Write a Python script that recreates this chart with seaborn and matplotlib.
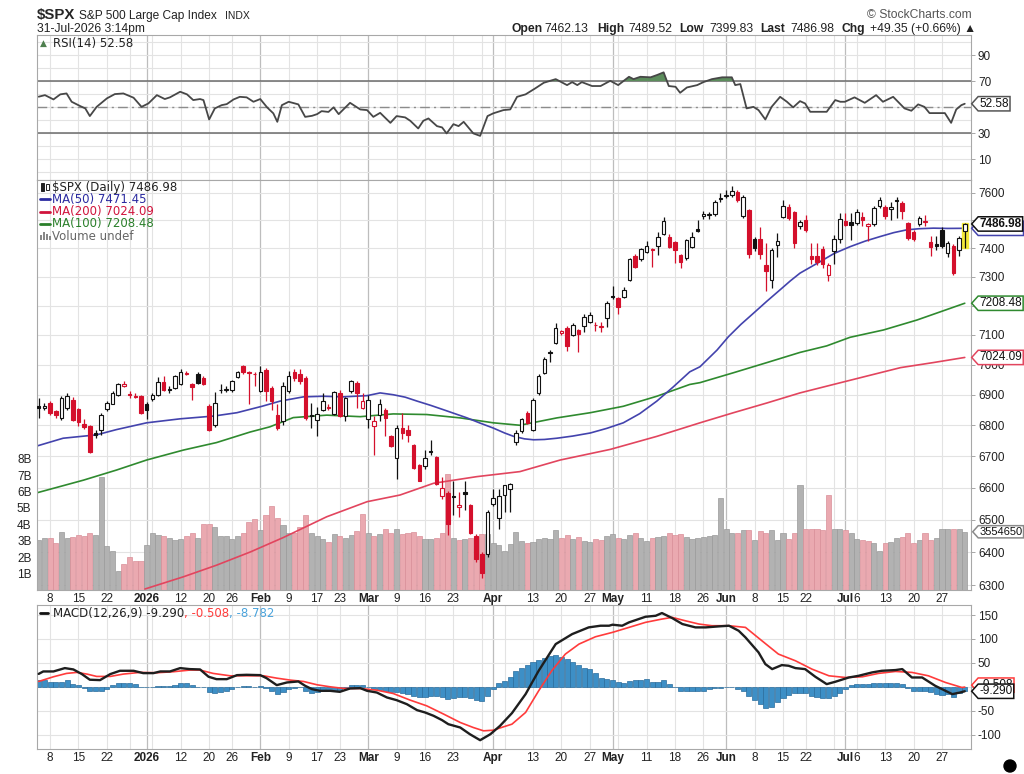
import numpy as np
import pandas as pd
import matplotlib
matplotlib.use("Agg")
import matplotlib.pyplot as plt
import seaborn as sns
from matplotlib.path import Path
from matplotlib.lines import Line2D
from matplotlib.patches import Ellipse, Rectangle
from matplotlib.ticker import FixedLocator, NullLocator, FuncFormatter

# ---------------- data ----------------
holidays = ['2025-12-25', '2026-01-01', '2026-01-19', '2026-02-16',
            '2026-04-03', '2026-05-25', '2026-06-19', '2026-07-03']

opens = [6864, 6858, 6873, 6846, 6824, 6857, 6884, 6853, 6805, 6798,
         6775, 6786, 6853, 6871, 6900, 6930, 6902, 6896, 6895, 6871,
         6886, 6900, 6941, 6920, 6922, 6937, 6970, 6934, 6970, 6955,
         6862, 6800, 6915, 6914, 6915, 6960, 6997, 6975, 6970, 6912,
         6982, 6922, 6832, 6813, 6911, 6975, 6968, 6955, 6835, 6816,
         6849, 6860, 6838, 6906, 6830, 6911, 6940, 6858, 6821, 6797,
         6832, 6850, 6764, 6694, 6791, 6786, 6737, 6672, 6668, 6717,
         6698, 6575, 6584, 6574, 6540, 6586, 6546, 6449, 6395, 6395,
         6550, 6505, 6577, 6597, 6747, 6780, 6841, 6786, 6907, 6973,
         7042, 7072, 7108, 7125, 7100, 7117, 7130, 7145, 7133, 7128,
         7159, 7235, 7227, 7230, 7288, 7373, 7361, 7387, 7395, 7408,
         7452, 7440, 7423, 7375, 7367, 7406, 7468, 7515, 7518, 7521,
         7582, 7588, 7592, 7604, 7515, 7537, 7434, 7435, 7340, 7290,
         7412, 7513, 7549, 7530, 7480, 7500, 7372, 7372, 7398, 7306,
         7390, 7432, 7498, 7495, 7490, 7512, 7478, 7486, 7550, 7547,
         7540, 7575, 7563, 7490, 7457, 7488, 7495, 7422, 7415, 7466,
         7385, 7410, 7396, 7462.13]
highs = [6890, 6872, 6878, 6850, 6895, 6905, 6892, 6858, 6820, 6800,
         6785, 6840, 6880, 6912, 6938, 6944, 6912, 6905, 6898, 6875,
         6905, 6960, 6961, 6928, 6966, 6985, 6978, 6940, 6975, 6962,
         6868, 6908, 6935, 6928, 6950, 6978, 7000, 6980, 6976, 6995,
         6990, 6930, 6868, 6943, 6980, 6985, 6985, 6962, 6873, 6860,
         6905, 6870, 6911, 6917, 6893, 6950, 6945, 6905, 6900, 6830,
         6885, 6858, 6770, 6802, 6840, 6800, 6740, 6675, 6720, 6753,
         6700, 6633, 6590, 6622, 6585, 6622, 6550, 6455, 6400, 6530,
         6595, 6595, 6610, 6615, 6785, 6825, 6848, 6890, 6968, 7025,
         7048, 7140, 7118, 7130, 7140, 7120, 7170, 7180, 7145, 7145,
         7216, 7268, 7230, 7265, 7367, 7380, 7402, 7425, 7402, 7457,
         7512, 7452, 7428, 7380, 7432, 7458, 7500, 7535, 7530, 7572,
         7598, 7610, 7625, 7610, 7590, 7540, 7440, 7475, 7420, 7400,
         7455, 7575, 7560, 7535, 7500, 7520, 7420, 7420, 7410, 7350,
         7446, 7525, 7525, 7525, 7540, 7530, 7490, 7550, 7585, 7555,
         7565, 7585, 7570, 7495, 7465, 7515, 7520, 7445, 7445, 7475,
         7425, 7415, 7445, 7489.52]
lows = [6823, 6850, 6835, 6825, 6818, 6850, 6815, 6796, 6788, 6712,
        6760, 6770, 6845, 6868, 6895, 6925, 6890, 6888, 6836, 6820,
        6880, 6895, 6912, 6905, 6918, 6932, 6965, 6882, 6935, 6932,
        6780, 6795, 6905, 6910, 6910, 6955, 6970, 6868, 6930, 6908,
        6880, 6850, 6786, 6800, 6905, 6945, 6935, 6818, 6791, 6764,
        6845, 6850, 6835, 6826, 6815, 6905, 6858, 6852, 6791, 6704,
        6815, 6764, 6730, 6628, 6754, 6745, 6658, 6620, 6660, 6705,
        6610, 6565, 6453, 6514, 6508, 6530, 6455, 6370, 6322, 6385,
        6543, 6470, 6525, 6525, 6735, 6775, 6805, 6780, 6900, 6968,
        7010, 7068, 7100, 7045, 7095, 7043, 7110, 7140, 7115, 7110,
        7128, 7223, 7170, 7228, 7286, 7330, 7355, 7382, 7335, 7375,
        7448, 7400, 7350, 7332, 7360, 7400, 7460, 7505, 7505, 7515,
        7565, 7580, 7585, 7565, 7510, 7365, 7390, 7362, 7252, 7262,
        7370, 7510, 7500, 7400, 7470, 7458, 7345, 7340, 7330, 7285,
        7345, 7420, 7478, 7430, 7485, 7480, 7425, 7480, 7545, 7505,
        7500, 7510, 7505, 7430, 7425, 7480, 7478, 7372, 7395, 7400,
        7370, 7305, 7373, 7399.83]
closes = [6855, 6862, 6840, 6832, 6890, 6895, 6818, 6812, 6795, 6715,
          6770, 6832, 6873, 6906, 6936, 6934, 6900, 6894, 6840, 6851,
          6900, 6941, 6915, 6917, 6961, 6974, 6972, 6926, 6939, 6937,
          6785, 6873, 6917, 6918, 6945, 6976, 6974, 6972, 6968, 6975,
          6911, 6879, 6791, 6928, 6962, 6955, 6945, 6824, 6830, 6838,
          6878, 6857, 6908, 6830, 6889, 6944, 6906, 6878, 6881, 6815,
          6868, 6824, 6734, 6791, 6775, 6770, 6661, 6622, 6696, 6713,
          6613, 6600, 6486, 6570, 6546, 6581, 6459, 6380, 6336, 6523,
          6568, 6575, 6607, 6613, 6776, 6821, 6808, 6884, 6963, 7020,
          7038, 7124, 7112, 7062, 7134, 7102, 7162, 7168, 7135, 7130,
          7208, 7230, 7196, 7255, 7361, 7335, 7398, 7410, 7398, 7440,
          7496, 7406, 7395, 7351, 7430, 7440, 7463, 7522, 7523, 7567,
          7578, 7592, 7606, 7573, 7585, 7380, 7400, 7380, 7320, 7395,
          7428, 7550, 7508, 7418, 7495, 7467, 7362, 7352, 7346, 7343,
          7434, 7505, 7482, 7485, 7530, 7500, 7488, 7545, 7573, 7514,
          7548, 7570, 7535, 7436, 7432, 7508, 7497, 7405, 7408, 7410,
          7420, 7314, 7437.63, 7486.98]
prev_close = 6850

volume_b = [3.05, 3.2, 3.2, 2.85, 3.55, 3.2, 3.25, 3.35, 3.3, 3.45,
            3.35, 6.9, 2.7, 2.35, 1.15, 1.6, 2.0, 1.75, 1.75, 2.75,
            3.5, 3.35, 3.3, 3.2, 3.05, 3.1, 3.3, 3.45, 3.2, 4.05,
            4.0, 3.85, 3.3, 3.3, 3.1, 3.3, 3.45, 4.15, 4.35, 3.65,
            4.6, 5.15, 4.4, 3.95, 3.45, 3.5, 3.85, 4.6, 3.5, 3.3,
            3.1, 2.9, 3.4, 3.3, 3.2, 3.35, 3.6, 4.65, 3.5, 3.3,
            3.4, 3.75, 3.5, 3.75, 3.4, 3.5, 3.55, 3.3, 3.1, 3.1,
            3.2, 3.5, 7.1, 3.2, 3.05, 3.1, 3.2, 3.25, 3.4, 3.4,
            2.85, 2.75, 2.4, 2.8, 3.55, 3.0, 2.85, 2.9, 3.1, 3.15,
            3.1, 3.65, 3.2, 3.35, 3.1, 3.25, 3.0, 2.95, 3.1, 3.05,
            3.3, 3.4, 3.2, 3.1, 3.35, 3.45, 3.2, 3.0, 3.15, 3.25,
            3.3, 3.45, 3.35, 3.4, 3.25, 3.1, 3.15, 3.25, 3.3, 3.35,
            5.6, 3.7, 3.5, 3.5, 3.65, 3.65, 3.05, 3.6, 3.45, 3.65,
            3.05, 3.5, 3.1, 3.5, 6.4, 3.75, 3.7, 3.7, 3.65, 5.8,
            3.7, 3.75, 3.65, 3.5, 3.1, 3.05, 3.0, 2.85, 2.4, 2.85,
            2.9, 3.15, 3.25, 3.5, 2.85, 3.05, 3.45, 3.05, 3.15, 3.7,
            3.7, 3.7, 3.7, 3.55]

# moving averages, read at points along each line (day index, value)
ma50_x = [-0.3, 4.3, 10.2, 13.7, 19, 24.9, 30.8, 34.9, 39.3, 42.5, 46.6, 50, 53.6,
          57.8, 60.1, 62.4, 64.5, 66.6, 69, 71.2, 75.4, 77.7, 80, 82, 83.6, 85.5,
          87.1, 89, 91.2, 94, 97.1, 100, 102.9, 105.8, 108.8, 111.7, 114.6, 116.4,
          119.4, 121.4, 123.6, 125.8, 128.2, 130.5, 132.3, 134, 137.6, 140, 142.8,
          145.5, 148.1, 150.5, 152.8, 155, 157.5, 160, 163]
ma50_v = [6733, 6758, 6769, 6786, 6808, 6821, 6830, 6841, 6862, 6879, 6893, 6895, 6893,
          6897, 6906, 6900, 6892, 6879, 6865, 6851, 6824, 6807, 6791, 6775, 6764, 6756,
          6753, 6754, 6758, 6765, 6775, 6790, 6808, 6838, 6879, 6926, 6976, 6993,
          7049, 7094, 7136, 7174, 7216, 7255, 7286, 7313, 7354, 7382, 7406,
          7426, 7442, 7456, 7466, 7470, 7472, 7471, 7471.45]
ma100_x = [-0.3, 7.9, 13.7, 19, 25.5, 31.3, 37.2, 40.7, 44.8, 50.7, 56.6, 62.4, 68.3,
           74.2, 80, 84.7, 91.2, 97.1, 102.9, 108.8, 114.6, 116.4, 122.3, 128.2,
           134, 138.7, 142.8, 148.7, 154.6, 163]
ma100_v = [6584, 6624, 6656, 6688, 6720, 6744, 6778, 6795, 6825, 6833, 6828, 6837, 6835,
           6824, 6808, 6800, 6824, 6841, 6862, 6895, 6934, 6940, 6973, 7007,
           7041, 7063, 7092, 7117, 7151, 7208.48]
ma200_x = [18.7, 25.5, 31.3, 37.2, 43.1, 50.7, 57.8, 63.6, 69.5, 77.1, 84.7, 91.8,
           100.6, 108.8, 116.4, 122.3, 128.2, 134, 139.9, 145.8, 151.7, 157.5, 163]
ma200_v = [6288, 6325, 6360, 6400, 6445, 6509, 6556, 6577, 6614, 6635, 6651, 6688,
           6722, 6764, 6808, 6841, 6873, 6906, 6934, 6962, 6990, 7007, 7024.09]

rsi_x = [0, 1.1, 2.6, 3.8, 4.9, 5.8, 7.3, 8.2, 9, 10.2, 12, 13.4, 14.9, 16.7, 18.1,
         19.3, 20.8, 22.2, 23.1, 24.9, 26.1, 27.2, 28.4, 29, 30, 31, 32.2, 33.1,
         34.3, 35.4, 36.6, 37.8, 39, 40.2, 41.3, 42, 42.8, 44, 45.7, 46.9, 48.1,
         49, 49.8, 51, 51.9, 52.8, 54.8, 56.6, 57.8, 58.9, 60.1, 61.9, 63, 64.5,
         65.4, 66.8, 67.7, 68.6, 70.1, 71, 71.8, 73, 73.9, 74.8, 76.5, 77.7, 79,
         80, 81.8, 83, 84.2, 85.7, 87.4, 88.9, 91, 93, 93.9, 94.8, 95.6, 97.4,
         98.9, 100.6, 102, 103.9, 104.7, 105.9, 107.7, 108.8, 110, 110.9, 112.1,
         112.9, 114.1, 115.9, 117, 118.5, 120.3, 122, 122.6, 123.5, 124.6, 125.8,
         126.7, 127.9, 129, 130.5, 131.7, 132.8, 134, 134.9, 135.8, 138.7, 140.2,
         141.1, 141.9, 143.6, 145.4, 147.4, 148.6, 150.4, 152.4, 153.6, 154.8,
         155.9, 156.8, 159.5, 160.6, 161.5, 162.4, 163]
rsi_v = [58, 59.2, 55.9, 59.8, 60.5, 54.1, 50.8, 49.0, 43.1, 50.2, 56.7, 60.0, 60.5,
         57.2, 50.2, 52.8, 59.2, 56.2, 57.5, 61.8, 59.8, 55.4, 56.2, 55.4, 40.5,
         49.0, 51.5, 52.3, 55.9, 57.9, 57.5, 54.1, 56.2, 49.8, 45.2, 38.7, 51.5,
         54.1, 52.1, 42.5, 43.3, 44.6, 46.9, 46.3, 49.8, 44.6, 53.3, 48.2, 47.7,
         42.5, 45.6, 37.9, 43.1, 42.1, 39.5, 33.6, 39.5, 41.3, 35.4, 34.4, 29.8,
         36.9, 35.4, 38.7, 29.8, 27.9, 43.1, 45.2, 47.7, 48.2, 57.9, 59.8, 64.4,
         68.7, 71.5, 66.9, 69.2, 66.9, 69.2, 66.2, 66.2, 70.2, 66.9, 73.3, 71.5,
         73.3, 72.9, 74.6, 76.7, 66.2, 65.6, 61.0, 65.1, 66.9, 69.2, 71.5, 72.9,
         72.9, 66.9, 67.7, 49.0, 50.2, 47.7, 40.5, 50.2, 57.9, 54.1, 49.8, 54.6,
         52.8, 46.4, 46.4, 55.4, 54.1, 54.1, 57.5, 53.3, 59.2, 54.1, 57.9, 49.0,
         47.2, 52.1, 50.2, 45.4, 45.4, 37.9, 48.2, 51.5, 52.58]

macd_x = [0, 0.8, 2.6, 4.6, 6.1, 7.6, 9, 10.8, 12.6, 14.3, 16.7, 18.4, 20.2, 21.4,
          23.1, 24.9, 26.6, 28.4, 29.9, 31.3, 33.1, 34.9, 36.6, 39, 40.1, 41.9,
          43.7, 45.7, 46.9, 48.1, 49.5, 51.3, 53, 54.8, 56.6, 57.8, 59.5, 61.3,
          63, 64.8, 66.6, 68, 69.5, 71, 72.1, 74.2, 75.9, 77.7, 79.5, 81.2, 83.3,
          85.7, 88, 91, 93.9, 96.8, 98.9, 100.4, 101, 102.7, 103.9, 106.8, 108.6,
          109.7, 111.5, 113.3, 115.6, 117.4, 119.7, 121.5, 123.2, 124.4, 126.7,
          127.9, 129.1, 130.8, 132, 133.2, 134.9, 136.7, 138.7, 140.2, 142.6,
          144.3, 146.7, 148.4, 150.8, 152, 153.7, 155.5, 157.8, 160.8, 162.2, 163]
macd_v = [27, 32.1, 32.1, 39.1, 36.3, 26.6, 14.8, 14.0, 26.6, 33.5, 33.5, 28.6, 28.6,
          32.1, 32.1, 39.1, 37.0, 36.3, 21.0, 16.0, 16.0, 24.4, 25.1, 24.4, 18.1,
          3.5, 9.1, 11.2, 2.1, -4.9, -8.4, -8.4, -10.5, -3.5, -2.8, -8.4, -11.9,
          -22.3, -27.9, -36.3, -48.8, -53.6, -60.6, -69.7, -78.1, -85.1, -99.1,
          -111.6, -99.1, -81.6, -55, -15.3, 33.5, 89.3, 110.2, 124.2, 127.7, 127.7,
          129.8, 127.7, 134.7, 146.4, 148.5, 154.2, 143.7, 131.2, 124.2, 124.2,
          126.3, 127.7, 117.2, 103.3, 72.0, 47.5, 37.0, 45.4, 44.0, 39.1, 37.0,
          21.0, 5.6, 10.5, 19.5, 23.0, 30.1, 33.5, 35.0, 37.0, 19.5, 19.5, 2.1,
          -15.3, -11.9, -9.29]
signal_x = [0, 2.6, 4.9, 6.7, 8.5, 10.2, 12.6, 14.9, 17.8, 20.8, 23.7, 26.6, 28.4,
            30.7, 33.7, 36.6, 39.6, 41.9, 44.3, 46.6, 49, 51.3, 53.7, 56.6, 59.5,
            62.4, 65.4, 68.3, 71.3, 74.2, 76.5, 78.3, 80, 81.8, 83.3, 85.7, 88,
            90.3, 92.7, 95.1, 98, 101, 103.9, 106.8, 109.7, 111.5, 113.8, 116.2,
            118.5, 121.5, 124.4, 127.3, 130.2, 133.2, 136.1, 139.1, 142, 145,
            147.8, 150.8, 153.7, 156.6, 159.6, 162.5, 163]
signal_v = [11.2, 21.0, 28.0, 30.1, 26.6, 21.7, 21.7, 26.6, 30.1, 29.4, 31.5, 35.0,
            35.0, 28.0, 23.0, 23.0, 23.0, 18.1, 14.0, 11.2, 4.2, 0, -3.5, -3.5, -7.0,
            -14.0, -27.9, -39.8, -57.2, -74.6, -85.1, -92.0, -90.7, -83.7, -78.1,
            -53.6, -8.4, 33.5, 68.4, 89.3, 104.6, 113.8, 124.2, 134.7, 141.6, 145.1,
            138.1, 131.2, 127.7, 127.7, 124.2, 96.2, 68.4, 54.4, 37.0, 23.0, 19.5,
            21.0, 28.0, 32.1, 30.1, 23.0, 9.1, -1.4, -0.508]
hist_v = [14, 14, 11, 11, 11, 14, 5.6, 4.2, -2.8, -9.8,
          -9.8, -8.4, -4.9, 4.2, 7, 9, 9, 5.6, 0, -1.4,
          -1.4, 1.4, 1.4, 2.1, 4.2, 7, 7, 4.2, 0, -1.4,
          -11.8, -13.2, -11.8, -8.4, -4.9, -1.4, 1.4, 2.1, 0, 1.4,
          -2.8, -8.4, -15.3, -11.8, -4.9, -2.8, -1.4, -8.4, -13.9, -11.8,
          -8.4, -7, -8.4, -7, -2.8, 3.5, 4.2, 4.2, -1.4, -4.9,
          -7, -9.8, -11.8, -11.8, -13.9, -15.3, -18.8, -22.3, -20.9, -18.8,
          -18.8, -22.3, -25.8, -23.7, -22.3, -22.3, -23.7, -27.9, -30.7, -18.8,
          -4.9, 7, 12.5, 19.5, 32, 40, 46, 51, 56, 61,
          65, 67, 63, 58, 51, 46, 40, 37, 28, 18,
          16, 14, 11, 9, 12.5, 14, 14, 16, 11, 11,
          14, 5.6, -1.4, -9.8, -9.8, -9.8, -9.8, -8.4, -5.6, -3.5,
          -2.8, -1.4, -1.4, -4.9, -8.4, -18.8, -27.9, -36.2, -44.6, -43.2,
          -32.8, -23.7, -16.7, -13.9, -13.9, -12.5, -18.8, -22.3, -23.7, -23.7,
          -18.8, -12.5, -4.9, 4.2, 5.6, 5.6, 5.6, 7, 9, 7,
          7, 7, 5.6, -2.8, -8.4, -8.4, -8.4, -11.8, -15.3, -16.7,
          -15.3, -22.3, -13.9, -8.782]

# x axis: week and month grid lines, labelled ticks
week_lines = ['2025-12-08', '2025-12-15', '2025-12-22', '2025-12-29', '2026-01-05',
              '2026-01-12', '2026-01-20', '2026-01-26', '2026-02-09', '2026-02-17',
              '2026-02-23', '2026-03-09', '2026-03-16', '2026-03-23', '2026-03-30',
              '2026-04-06', '2026-04-13', '2026-04-20', '2026-04-27', '2026-05-04',
              '2026-05-11', '2026-05-18', '2026-05-26', '2026-06-08', '2026-06-15',
              '2026-06-22', '2026-06-29', '2026-07-06', '2026-07-13', '2026-07-20',
              '2026-07-27']
month_lines = ['2026-01-02', '2026-02-02', '2026-03-02', '2026-04-01', '2026-05-01',
               '2026-06-01', '2026-07-01']
tick_dates = ['2025-12-08', '2025-12-15', '2025-12-22', '2026-01-02', '2026-01-12',
              '2026-01-20', '2026-01-26', '2026-02-02', '2026-02-09', '2026-02-17',
              '2026-02-23', '2026-03-02', '2026-03-09', '2026-03-16', '2026-03-23',
              '2026-04-01', '2026-04-13', '2026-04-20', '2026-04-27', '2026-05-01',
              '2026-05-11', '2026-05-18', '2026-05-26', '2026-06-01', '2026-06-08',
              '2026-06-15', '2026-06-22', '2026-07-01', '2026-07-06', '2026-07-13',
              '2026-07-20', '2026-07-27']
tick_labels = ['8', '15', '22', '2026', '12', '20', '26', 'Feb', '9', '17', '23', 'Mar',
               '9', '16', '23', 'Apr', '13', '20', '27', 'May', '11', '18', '26', 'Jun',
               '8', '15', '22', 'Jul', '6', '13', '20', '27']
bold_labels = ['2026', 'Feb', 'Mar', 'Apr', 'May', 'Jun', 'Jul']
price_ticks = list(range(6300, 7700, 100))
hidden_price_labels = [7200]   # sits under the MA(100) tag

# ---------------- setup ----------------
sns.set_theme(style="white")
plt.rcParams['font.family'] = ['Liberation Sans', 'DejaVu Sans']

dates = pd.bdate_range('2025-12-04', '2026-07-31')
dates = dates[~dates.isin(pd.to_datetime(holidays))]
idx = np.arange(len(dates))


def pos(d):
    return dates.get_loc(pd.Timestamp(d))


W, H = 1024, 774
fig = plt.figure(figsize=(W / 100, H / 100), dpi=100)


def panel(top, bottom):
    return fig.add_axes([37 / W, 1 - bottom / H, (971 - 37) / W, (bottom - top) / H])


def px(x, y):
    return x / W, 1 - y / H


ax_rsi = panel(35, 180)
ax = panel(180, 590)
ax_m = panel(605, 749)

GRID = '#e3e3e3'


def style(a, labels=True):
    a.set_xlim(-0.3, 164.1)
    for s in a.spines.values():
        s.set_color('#a8a8a8')
        s.set_linewidth(0.8)
    for d in week_lines:
        a.axvline(pos(d), color=GRID, lw=0.8, zorder=0.2)
    for d in month_lines:
        a.axvline(pos(d), color='#bdbdbd', lw=0.9, zorder=0.3)
    a.set_xticks([pos(d) for d in tick_dates])
    a.set_xticklabels(tick_labels)
    for t, lab in zip(a.get_xticklabels(), tick_labels):
        if lab in bold_labels:
            t.set_fontweight('bold')
    a.tick_params(axis='x', length=0, pad=2, labelsize=8.5, labelcolor='#222',
                  labelbottom=labels)
    a.yaxis.tick_right()
    a.tick_params(axis='y', which='major', length=3, width=0.6, color='#999',
                  pad=2, labelsize=8.5, labelcolor='#222')
    a.set_axisbelow(True)


def tag_shape(x0, y0, width, height, mutation_size):
    pad = 0.1 * mutation_size
    x0, y0 = x0 - pad, y0 - pad
    x1, y1 = x0 + width + 2 * pad, y0 + height + 2 * pad
    tip = 0.45 * (y1 - y0)
    ym = 0.5 * (y0 + y1)
    return Path([(x0, y0), (x0 - tip, ym), (x0, y1), (x1, y1), (x1, y0), (x0, y0)],
                closed=True)


def tag(a, y, text, edge, bold=False, size=8.5):
    a.annotate(text, xy=(1, y), xycoords=a.get_yaxis_transform(), xytext=(6, 0),
               textcoords='offset points', ha='left', va='center', fontsize=size,
               fontweight='bold' if bold else 'normal', color='#111',
               bbox=dict(boxstyle=tag_shape, fc='white', ec=edge, lw=1.1),
               annotation_clip=False, zorder=20)


# ---------------- RSI panel ----------------
style(ax_rsi, labels=False)
ax_rsi.set_ylim(-6, 105.4)
ax_rsi.set_yticks([10, 30, 70, 90])
ax_rsi.yaxis.set_minor_locator(FixedLocator(range(0, 101, 10)))
ax_rsi.tick_params(axis='y', which='minor', length=0)
ax_rsi.grid(axis='y', which='both', color=GRID, lw=0.8)
ax_rsi.axhline(70, color='#6b6b6b', lw=1.1, zorder=1)
ax_rsi.axhline(30, color='#6b6b6b', lw=1.1, zorder=1)
ax_rsi.axhline(50, color='#8c8c8c', lw=1.0, dashes=(7, 3, 1.5, 3), zorder=1)
rx, rv = np.array(rsi_x), np.array(rsi_v)
ax_rsi.fill_between(rx, rv, 70, where=rv > 70, interpolate=True,
                    color='#5c8d5c', lw=0, zorder=1.5)
sns.lineplot(x=rx, y=rv, ax=ax_rsi, color='#474747', lw=1.3, sort=False,
             estimator=None, zorder=2)
ax_rsi.set_xlabel('')
tag(ax_rsi, rsi_v[-1], '52.58', '#555')
fig.text(*px(40, 43), '\u25B2', color='#4e7f4e', fontsize=6.5, va='center',
         family='DejaVu Sans')
fig.text(*px(53, 43), 'RSI(14) 52.58', fontsize=8.5, va='center', color='#222',
         family='DejaVu Sans')

# ---------------- price panel ----------------
ax.set_yscale('log')
ax.set_ylim(6285, 7646)
axv = ax.twinx()
axv.set_ylim(0, 25)
style(ax, labels=True)
ax.yaxis.set_major_locator(FixedLocator(price_ticks))
ax.yaxis.set_major_formatter(
    FuncFormatter(lambda v, p: '' if round(v) in hidden_price_labels else f'{v:.0f}'))
ax.yaxis.set_minor_locator(NullLocator())
ax.grid(axis='y', color=GRID, lw=0.8)
ax.yaxis.tick_right()

axv.yaxis.tick_left()
axv.set_yticks(range(1, 9))
axv.set_yticklabels([f'{k}B' for k in range(1, 9)])
axv.tick_params(axis='y', length=0, pad=4, labelsize=8.5, labelcolor='#222')
for s in axv.spines.values():
    s.set_visible(False)

c = np.array(closes, dtype=float)
o = np.array(opens, dtype=float)
prev = np.r_[prev_close, c[:-1]]
down = c < prev
RED = '#d4102c'
cols = np.where(down, RED, '#111111')
faces = np.where(c < o, cols, 'white')

# volume bars use the twin axis scale
ax.bar(idx, volume_b, width=0.9, bottom=0, transform=axv.transData,
       color=np.where(down, '#eaa9b0', '#b2b2b2'),
       edgecolor=np.where(down, '#d98f98', '#9a9a9a'), linewidth=0.5, zorder=1)

sns.lineplot(x=ma200_x, y=ma200_v, ax=ax, color='#e2455e', lw=1.2, sort=False,
             estimator=None, zorder=2)
sns.lineplot(x=ma100_x, y=ma100_v, ax=ax, color='#2f8a2f', lw=1.2, sort=False,
             estimator=None, zorder=2)
sns.lineplot(x=ma50_x, y=ma50_v, ax=ax, color='#4343ad', lw=1.2, sort=False,
             estimator=None, zorder=2)

ax.add_patch(Rectangle((idx[-1] - 0.55, lows[-1]), 1.1, highs[-1] - lows[-1],
                       color='#f3e838', zorder=2.5))
ax.vlines(idx, lows, highs, colors=cols, lw=0.9, zorder=3)
ax.bar(idx, np.maximum(np.abs(c - o), 1.2), bottom=np.minimum(o, c), width=0.62,
       color=faces, edgecolor=cols, linewidth=0.8, zorder=4)
ax.set_ylim(6285, 7646)
ax.set_xlabel('')
ax.set_ylabel('')
axv.set_ylabel('')

tag(ax, ma50_v[-1], '7471.45', '#4343ad')
tag(ax, closes[-1], '7486.98', '#111', bold=True)
tag(ax, ma100_v[-1], '7208.48', '#2f8a2f')
tag(ax, ma200_v[-1], '7024.09', '#e2455e')
tag(axv, volume_b[-1], '3554650', '#8a8a8a', size=8)

legend_rows = [('$SPX (Daily) 7486.98', '#222', None),
               ('MA(50) 7471.45', '#2a2aa0', '#2a2aa0'),
               ('MA(200) 7024.09', '#d0143c', '#d0143c'),
               ('MA(100) 7208.48', '#2a7f2a', '#2a7f2a'),
               ('Volume undef', '#666', None)]
for k, (txt, tc, lc) in enumerate(legend_rows):
    yy = 187 + 12.3 * k
    fig.text(*px(52, yy), txt, fontsize=8.5, va='center', color=tc, family='DejaVu Sans')
    if lc:
        fig.add_artist(Line2D([40 / W, 50 / W], [1 - yy / H] * 2, color=lc, lw=2))
# small candle and volume icons
for dx, top, bot, fill in [(41, -4, 4, '#222'), (46, -3, 3, 'white')]:
    fig.add_artist(Rectangle(px(dx, 187 + bot), 3.2 / W, (bot - top) / H,
                             fc=fill, ec='#222', lw=0.7))
for dx, h in [(40, 5), (43, 8), (46, 6), (49, 4)]:
    fig.add_artist(Rectangle(px(dx, 236 + 4), 2.4 / W, h / H, fc='#888', ec='none'))

# ---------------- MACD panel ----------------
style(ax_m, labels=True)
ax_m.set_ylim(-130, 171)
ax_m.yaxis.set_major_locator(FixedLocator([-100, -50, 0, 50, 100, 150]))
ax_m.yaxis.set_major_formatter(FuncFormatter(lambda v, p: '' if v == 0 else f'{v:.0f}'))
ax_m.grid(axis='y', color=GRID, lw=0.8)
ax_m.bar(idx, hist_v, width=0.9, color='#3d8fc6', edgecolor='#2a6c9c', linewidth=0.5,
         zorder=1)
sns.lineplot(x=signal_x, y=signal_v, ax=ax_m, color='#ff3b3b', lw=1.2, sort=False,
             estimator=None, zorder=2)
sns.lineplot(x=macd_x, y=macd_v, ax=ax_m, color='#1e1e1e', lw=1.7, sort=False,
             estimator=None, zorder=3)
ax_m.set_xlabel('')
tag(ax_m, signal_v[-1] + 4, '-0.508', '#ff3b3b')
tag(ax_m, macd_v[-1], '-9.290', '#111')

fig.add_artist(Line2D([40 / W, 48 / W], [1 - 613 / H] * 2, color='#111', lw=2))
t1 = fig.text(*px(53, 613), 'MACD(12,26,9) -9.290', fontsize=8.5, va='center',
              color='#222', family='DejaVu Sans')
t2 = ax_m.annotate(', -0.508', xy=(1, 0), xycoords=t1, va='bottom', fontsize=8.5,
                   color='#ff3b3b', family='DejaVu Sans', annotation_clip=False)
ax_m.annotate(', -8.782', xy=(1, 0), xycoords=t2, va='bottom', fontsize=8.5,
              color='#4aa3dc', family='DejaVu Sans', annotation_clip=False)

# ---------------- header ----------------
fig.text(*px(37, 19), '$SPX', fontsize=10.8, fontweight='bold', va='baseline')
fig.text(*px(79, 19), 'S&P 500 Large Cap Index', fontsize=8.6, va='baseline', color='#222')
fig.text(*px(225, 19), 'INDX', fontsize=7.5, va='baseline', color='#222')
fig.text(*px(37, 32), '31-Jul-2026 3:14pm', fontsize=8.7, va='baseline', color='#222')
fig.text(*px(972, 18), '\u00a9 StockCharts.com', fontsize=8.7, va='baseline',
         ha='right', color='#555')
quote = [(512, 'Open', True), (544, '7462.13', False), (597, 'High', True),
         (628, '7489.52', False), (679, 'Low', True), (709, '7399.83', False),
         (760, 'Last', True), (790, '7486.98', False), (842, 'Chg', True),
         (870, '+49.35 (+0.66%) \u25B2', False)]
for xq, txt, b in quote:
    fig.text(*px(xq, 32), txt, fontsize=8.7, va='baseline', color='#222',
             fontweight='bold' if b else 'normal')

fig.add_artist(Ellipse(px(1010, 766), 12 / W, 12 / H, color='black',
                       transform=fig.transFigure))

fig.savefig('out.png', dpi=100)
